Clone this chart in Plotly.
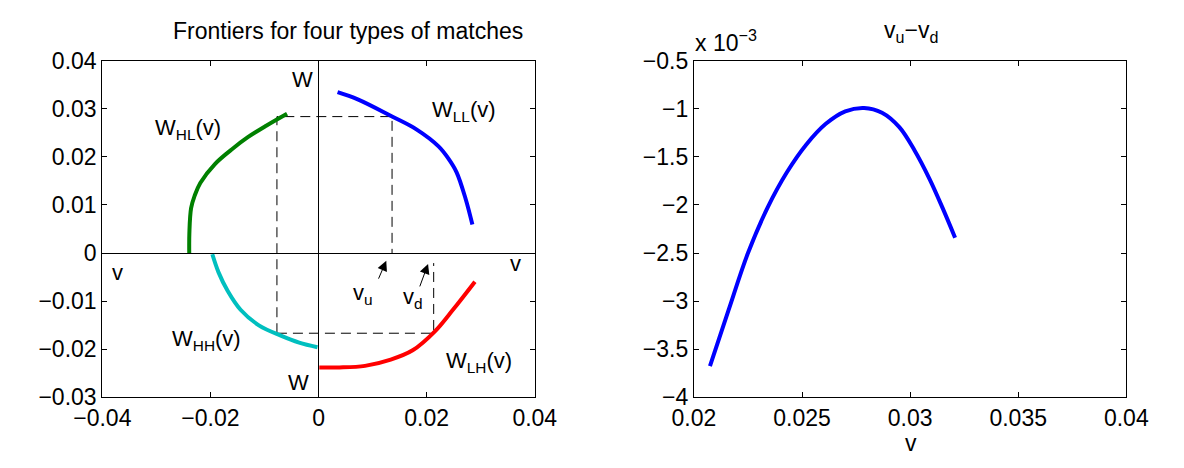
import plotly.graph_objects as go

# ---------------- data (left panel: frontiers) ----------------
v_LL = [0.00352, 0.00725, 0.01369, 0.0181, 0.0222, 0.0240, 0.02554, 0.0272, 0.02846]
W_LL = [0.0335, 0.0320, 0.02838, 0.02575, 0.0222, 0.0197, 0.0168, 0.0113, 0.00592]

v_HL = [-0.02392, -0.0239, -0.02358, -0.0229, -0.02188, -0.01917, -0.01579, -0.01308, -0.00969, -0.00583]
W_HL = [0.0, 0.00408, 0.00934, 0.0120, 0.01459, 0.01853, 0.02181, 0.02411, 0.0265, 0.0290]

v_HH = [-0.01965, -0.0185, -0.0168, -0.01443, -0.01104, -0.00698, -0.00359, -0.0002]
W_HH = [-0.00026, -0.00403, -0.00792, -0.01182, -0.01506, -0.0172, -0.01864, -0.01961]

v_LH = [0.00014, 0.00386, 0.0086, 0.01335, 0.01741, 0.02148, 0.02486, 0.02893]
W_LH = [-0.02383, -0.02383, -0.0235, -0.0222, -0.02026, -0.01636, -0.01182, -0.00597]

# guide values (dashed construction lines)
v_left_guide = -0.0077
v_u_guide = 0.0136
v_d_guide = 0.0213
W_top_guide = 0.0284
W_bot_guide = -0.0167
v_d_top = -0.0021

left_xticks = [-0.04, -0.02, 0, 0.02, 0.04]
left_xticklabels = ["\u22120.04", "\u22120.02", "0", "0.02", "0.04"]
left_yticks = [-0.03, -0.02, -0.01, 0, 0.01, 0.02, 0.03, 0.04]
left_yticklabels = ["\u22120.03", "\u22120.02", "\u22120.01", "0", "0.01", "0.02", "0.03", "0.04"]

# ---------------- data (right panel: v_u - v_d, in units of 1e-3) ----------------
v_right = [0.02074, 0.0216, 0.0225, 0.0234, 0.0243, 0.0252, 0.0261, 0.0270,
           0.02787, 0.0287, 0.0295, 0.0302, 0.0309, 0.0315, 0.03208]
vu_minus_vd_e3 = [-3.678, -3.095, -2.50, -2.03, -1.66, -1.37, -1.155, -1.025,
                  -0.99, -1.04, -1.19, -1.43, -1.73, -2.03, -2.34]

right_xticks = [0.02, 0.025, 0.03, 0.035, 0.04]
right_xticklabels = ["0.02", "0.025", "0.03", "0.035", "0.04"]
right_yticks = [-4, -3.5, -3, -2.5, -2, -1.5, -1, -0.5]
right_yticklabels = ["\u22124", "\u22123.5", "\u22123", "\u22122.5", "\u22122", "\u22121.5", "\u22121", "\u22120.5"]

FONT = "Liberation Sans, Arial, Helvetica, sans-serif"
FS_TICK = 23
FS_TEXT = 22
FS_TITLE = 23

fig = go.Figure()

dash_style = dict(color="black", width=1, dash="10px,6px")
# dashed guides
fig.add_trace(go.Scatter(x=[v_left_guide, v_left_guide, v_u_guide, v_u_guide],
                         y=[W_bot_guide, W_top_guide, W_top_guide, 0],
                         mode="lines", line=dash_style, xaxis="x", yaxis="y", hoverinfo="skip"))
fig.add_trace(go.Scatter(x=[v_left_guide, v_d_guide, v_d_guide],
                         y=[W_bot_guide, W_bot_guide, v_d_top],
                         mode="lines", line=dash_style, xaxis="x", yaxis="y", hoverinfo="skip"))

for xs, ys, col in [(v_HL, W_HL, "#008000"), (v_LL, W_LL, "#0000FF"),
                    (v_HH, W_HH, "#00BFBF"), (v_LH, W_LH, "#FF0000")]:
    fig.add_trace(go.Scatter(x=xs, y=ys, mode="lines", line=dict(color=col, width=4, shape="spline"),
                             xaxis="x", yaxis="y"))

fig.add_trace(go.Scatter(x=v_right, y=vu_minus_vd_e3, mode="lines",
                         line=dict(color="#0000FF", width=4, shape="spline"),
                         xaxis="x2", yaxis="y2"))

axis_common = dict(showgrid=False, showline=True, linecolor="black", linewidth=1.2, mirror="allticks",
                   ticks="inside", ticklen=5, tickcolor="black", tickwidth=1,
                   tickfont=dict(family=FONT, size=FS_TICK, color="black"))

fig.update_layout(
    width=1184, height=468, margin=dict(l=0, r=0, t=0, b=0),
    paper_bgcolor="white", plot_bgcolor="white", showlegend=False,
    font=dict(family=FONT, size=FS_TEXT, color="black"),
    xaxis=dict(domain=[76.7 / 1184, 529 / 1184], range=[-0.04, 0.04], tickmode="array",
               tickvals=left_xticks, ticktext=left_xticklabels, zeroline=True, zerolinecolor="black",
               zerolinewidth=1, anchor="y", **axis_common),
    yaxis=dict(domain=[1 - 406.7 / 468, 1 - 50.7 / 468], range=[-0.03, 0.04], tickmode="array",
               tickvals=left_yticks, ticktext=left_yticklabels, zeroline=True, zerolinecolor="black",
               zerolinewidth=1, anchor="x", **axis_common),
    xaxis2=dict(domain=[695.5 / 1184, 1147.7 / 1184], range=[0.02, 0.04], tickmode="array",
                tickvals=right_xticks, ticktext=right_xticklabels, zeroline=False, anchor="y2",
                **axis_common),
    yaxis2=dict(domain=[1 - 406.7 / 468, 1 - 50.7 / 468], range=[-4, -0.5], tickmode="array",
                tickvals=right_yticks, ticktext=right_yticklabels, zeroline=False, anchor="x2",
                **axis_common),
)

def txt(x, y, s, xanchor="center", yanchor="middle", xref="x", yref="y", size=FS_TEXT):
    fig.add_annotation(x=x, y=y, text=s, xref=xref, yref=yref, showarrow=False,
                       xanchor=xanchor, yanchor=yanchor, font=dict(family=FONT, size=size, color="black"))

# left panel labels
txt(-0.0030, 0.0362, "W")
txt(-0.0037, -0.0269, "W")
txt(0.0206, 0.0296, "W<sub>LL</sub>(v)", xanchor="left")
txt(-0.0306, 0.0259, "W<sub>HL</sub>(v)", xanchor="left")
txt(-0.0275, -0.0182, "W<sub>HH</sub>(v)", xanchor="left")
txt(0.0233, -0.0227, "W<sub>LH</sub>(v)", xanchor="left")
txt(-0.0372, -0.0040, "v")
txt(0.0364, -0.0021, "v")
txt(0.0060, -0.0085, "v<sub>u</sub>", xanchor="left")
txt(0.0152, -0.0094, "v<sub>d</sub>", xanchor="left")

for (hx, hy, tx, ty) in [(0.01253, -0.00162, 0.01098, -0.00565), (0.02026, -0.00227, 0.01863, -0.00727)]:
    fig.add_annotation(x=hx, y=hy, ax=tx, ay=ty, xref="x", yref="y", axref="x", ayref="y",
                       text="", showarrow=True, arrowhead=2, arrowsize=2, arrowwidth=1, arrowcolor="black")

# titles (paper coords)
txt(334 / 1184, 1 - 19 / 468, "Frontiers for four types of matches", xref="paper", yref="paper", size=FS_TITLE)
txt(922 / 1184, 1 - 20 / 468, "v<sub>u</sub>\u2212v<sub>d</sub>", xref="paper", yref="paper", size=FS_TITLE)
txt(695 / 1184, 1 - 30 / 468, "x 10<sup>\u22123</sup>", xanchor="left", xref="paper", yref="paper", size=FS_TICK)
txt(922 / 1184, 1 - 455 / 468, "v", xref="paper", yref="paper", size=FS_TICK)

fig.write_html("out.html", config={"displayModeBar": False},
               post_script="document.body.style.margin='0';")
